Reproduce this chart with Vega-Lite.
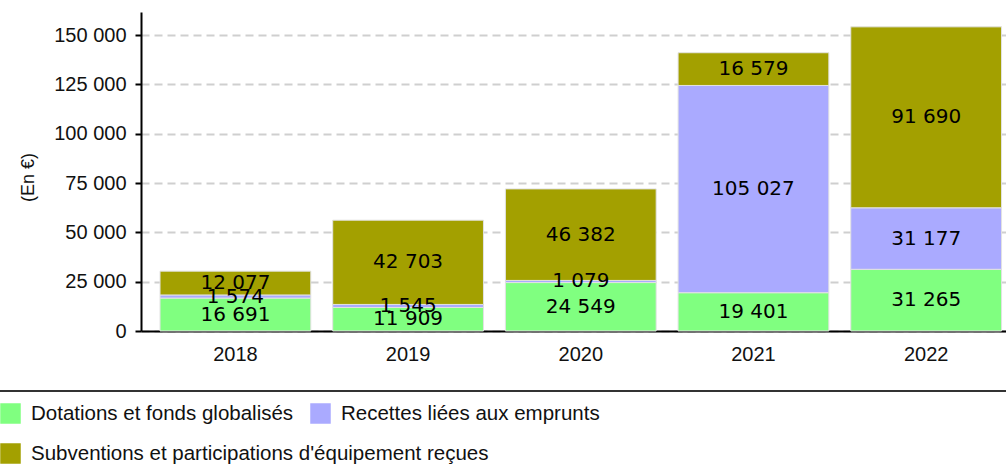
{
  "$schema": "https://vega.github.io/schema/vega-lite/v6.json",
  "width": 865,
  "height": 319,
  "autosize": {"type": "none"},
  "padding": {"left": 141, "top": 12, "right": 0, "bottom": 138},
  "config": {
    "view": {"stroke": null},
    "font": "Liberation Sans",
    "legend": {"strokeWidth": 2},
    "locale": {"number": {"decimal": ",", "thousands": "\u00a0", "grouping": [3], "currency": ["", "\u00a0€"]}}
  },
  "data": {
    "values": [
      {"year": "2018", "category": "Dotations et fonds globalisés", "value": 16691},
      {"year": "2018", "category": "Recettes liées aux emprunts", "value": 1574},
      {"year": "2018", "category": "Subventions et participations d'équipement reçues", "value": 12077},
      {"year": "2019", "category": "Dotations et fonds globalisés", "value": 11909},
      {"year": "2019", "category": "Recettes liées aux emprunts", "value": 1545},
      {"year": "2019", "category": "Subventions et participations d'équipement reçues", "value": 42703},
      {"year": "2020", "category": "Dotations et fonds globalisés", "value": 24549},
      {"year": "2020", "category": "Recettes liées aux emprunts", "value": 1079},
      {"year": "2020", "category": "Subventions et participations d'équipement reçues", "value": 46382},
      {"year": "2021", "category": "Dotations et fonds globalisés", "value": 19401},
      {"year": "2021", "category": "Recettes liées aux emprunts", "value": 105027},
      {"year": "2021", "category": "Subventions et participations d'équipement reçues", "value": 16579},
      {"year": "2022", "category": "Dotations et fonds globalisés", "value": 31265},
      {"year": "2022", "category": "Recettes liées aux emprunts", "value": 31177},
      {"year": "2022", "category": "Subventions et participations d'équipement reçues", "value": 91690}
    ]
  },
  "transform": [
    {"stack": "value", "groupby": ["year"], "sort": [{"field": "category", "order": "ascending"}], "as": ["v0", "v1"]},
    {"calculate": "(datum.v0 + datum.v1) / 2", "as": "mid"}
  ],
  "encoding": {
    "x": {
      "field": "year",
      "type": "ordinal",
      "scale": {"paddingInner": 0.127, "paddingOuter": 0.068, "align": 0.81},
      "axis": {
        "title": null,
        "labelAngle": 0,
        "ticks": false,
        "labelPadding": 13,
        "labelFontSize": 20,
        "labelColor": "#111",
        "domainColor": "#000",
        "domainWidth": 2
      }
    },
    "y": {
      "field": "v1",
      "type": "quantitative",
      "scale": {"domain": [0, 161657], "nice": false},
      "axis": {
        "title": "(En €)",
        "titleFontSize": 18,
        "titleFontWeight": "normal",
        "titleColor": "#111",
        "titleX": -108,
        "titleY": 165,
        "titleBaseline": "alphabetic",
        "values": [0, 25000, 50000, 75000, 100000, 125000, 150000],
        "format": ",d",
        "labelFontSize": 20,
        "labelColor": "#111",
        "labelPadding": 9,
        "tickSize": 6,
        "tickWidth": 2,
        "tickColor": "#000",
        "domainColor": "#000",
        "domainWidth": 2,
        "grid": true,
        "gridColor": "#cfcfcf",
        "gridDash": [8, 5],
        "gridWidth": 2
      }
    }
  },
  "layer": [
    {
      "transform": [{"filter": {"field": "category", "oneOf": ["Dotations et fonds globalisés", "Recettes liées aux emprunts"]}}],
      "mark": {"type": "bar", "stroke": "#e2e2e2", "strokeWidth": 1},
      "encoding": {
        "y2": {"field": "v0"},
        "color": {
          "field": "category",
          "type": "nominal",
          "scale": {
            "domain": ["Dotations et fonds globalisés", "Recettes liées aux emprunts"],
            "range": ["#80ff80", "#aaaaff"]
          },
          "legend": {
            "orient": "none",
            "legendX": -141,
            "legendY": 391,
            "direction": "horizontal",
            "symbolType": "square",
            "symbolSize": 420,
            "symbolStrokeWidth": 0,
            "symbolOpacity": 1,
            "labelFontSize": 20.5,
            "labelFont": "Liberation Sans",
            "labelColor": "#111",
            "labelLimit": 1000,
            "labelOffset": 10,
            "columnPadding": 16,
            "padding": 0,
            "title": null
          }
        }
      }
    },
    {
      "transform": [{"filter": {"field": "category", "oneOf": ["Subventions et participations d'équipement reçues"]}}],
      "mark": {"type": "bar", "stroke": "#e2e2e2", "strokeWidth": 1},
      "encoding": {
        "y2": {"field": "v0"},
        "fill": {
          "field": "category",
          "type": "nominal",
          "scale": {
            "domain": ["Subventions et participations d'équipement reçues"],
            "range": ["#a3a000"]
          },
          "legend": {
            "orient": "none",
            "legendX": -193,
            "legendY": 379,
            "direction": "horizontal",
            "symbolType": "square",
            "symbolSize": 420,
            "symbolStrokeWidth": 0,
            "symbolOpacity": 1,
            "labelFontSize": 20.5,
            "labelFont": "Liberation Sans",
            "labelColor": "#111",
            "labelLimit": 1000,
            "labelOffset": 10,
            "strokeColor": "#333",
            "padding": 52,
            "title": "\u2800\u2800\u2800\u2800\u2800\u2800\u2800\u2800\u2800\u2800\u2800\u2800\u2800\u2800\u2800\u2800\u2800\u2800\u2800\u2800\u2800\u2800\u2800\u2800\u2800\u2800\u2800\u2800\u2800\u2800\u2800\u2800\u2800\u2800\u2800\u2800\u2800\u2800\u2800\u2800\u2800\u2800\u2800\u2800\u2800\u2800\u2800\u2800\u2800\u2800\u2800\u2800\u2800\u2800\u2800\u2800\u2800\u2800\u2800\u2800",
            "titleLimit": 3000,
            "titleOrient": "right",
            "titleFontSize": 20,
            "titleAnchor": "start"
          }
        }
      }
    },
    {
      "mark": {"type": "text", "font": "DejaVu Sans", "fontSize": 20, "color": "#000"},
      "encoding": {
        "y": {"field": "mid", "type": "quantitative"},
        "text": {"field": "value", "type": "quantitative", "format": ",d"}
      }
    }
  ]
}
